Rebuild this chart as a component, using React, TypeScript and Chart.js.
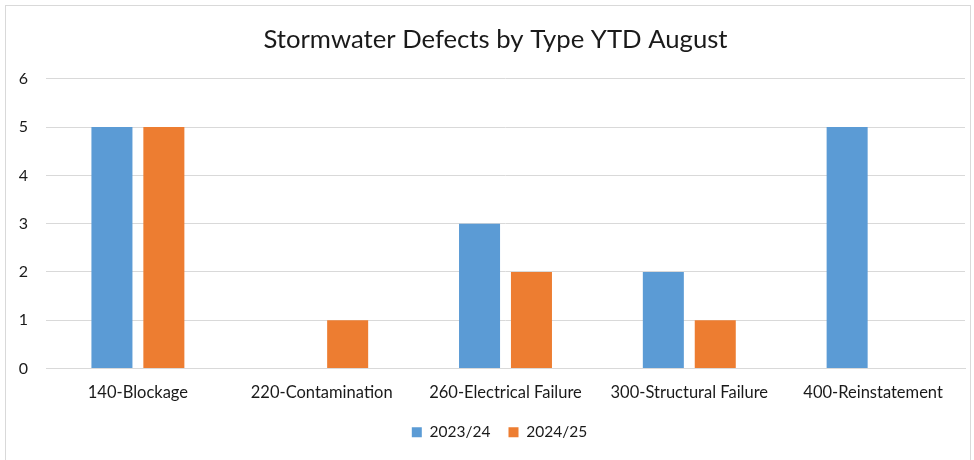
import React, { useEffect, useRef } from "react";
import { Chart, registerables } from "chart.js";

Chart.register(...registerables);

const categories = [
  "140-Blockage",
  "220-Contamination",
  "260-Electrical Failure",
  "300-Structural Failure",
  "400-Reinstatement",
];
const series2023 = [5, 0, 3, 2, 5];
const series2024 = [5, 1, 2, 1, 0];
const seriesLabels = ["2023/24", "2024/25"];
const yTicks = [0, 1, 2, 3, 4, 5, 6];
const titleText = "Stormwater Defects by Type YTD August";

const FONT = "Lato, 'Liberation Sans', sans-serif";
const TEXT = "#1a1a1a";

const blockShift = {
  id: "blockShift",
  afterLayout(chart: any) {
    const lg = chart.legend;
    if (lg) {
      lg.left += 17;
      lg.right += 17;
    }
    const tb = chart.titleBlock;
    if (tb) {
      tb.left += 13;
      tb.right += 13;
    }
  },
};

export default function App() {
  const ref = useRef<HTMLCanvasElement | null>(null);

  useEffect(() => {
    document.body.style.margin = "0";
    const canvas = ref.current;
    if (!canvas) return;
    const chart = new Chart(canvas, {
      type: "bar",
      data: {
        labels: categories,
        datasets: [
          {
            label: seriesLabels[0],
            data: series2023,
            backgroundColor: "#5B9BD5",
            categoryPercentage: 0.565,
            barPercentage: 0.79,
          },
          {
            label: seriesLabels[1],
            data: series2024,
            backgroundColor: "#ED7D31",
            categoryPercentage: 0.565,
            barPercentage: 0.79,
          },
        ],
      },
      plugins: [blockShift],
      options: {
        animation: false,
        responsive: false,
        maintainAspectRatio: false,
        layout: { padding: { left: 0, right: 9, top: 0, bottom: 10 } },
        plugins: {
          title: {
            display: true,
            text: titleText,
            color: TEXT,
            font: { family: FONT, size: 25.7, weight: "normal" },
            padding: { top: 24, bottom: 24 },
          },
          legend: {
            position: "bottom",
            labels: {
              color: TEXT,
              font: { family: FONT, size: 15.5 },
              boxWidth: 10,
              boxHeight: 10,
              padding: 18,
            },
          },
          tooltip: { enabled: false },
        },
        scales: {
          x: {
            grid: { display: false, drawTicks: false },
            border: { display: true, color: "#D9D9D9" },
            ticks: {
              color: TEXT,
              font: { family: FONT, size: 16.5 },
              padding: 14,
              maxRotation: 0,
            },
            afterFit: (s: any) => {
              s.height = 38;
            },
          },
          y: {
            min: 0,
            max: 6,
            afterBuildTicks: (s: any) => {
              s.ticks = yTicks.map((v) => ({ value: v }));
            },
            grid: { color: "#D9D9D9", drawTicks: false },
            border: { display: false },
            ticks: {
              color: TEXT,
              font: { family: FONT, size: 16 },
              padding: 18,
            },
            afterFit: (s: any) => {
              s.width = 46;
            },
          },
        },
      },
    });
    return () => chart.destroy();
  }, []);

  return (
    <div style={{ position: "relative", width: 974, height: 460, background: "#fff", overflow: "hidden" }}>
      <div
        style={{
          position: "absolute",
          left: 5,
          top: 5,
          width: 966,
          height: 470,
          border: "1px solid #D9D9D9",
          boxSizing: "border-box",
        }}
      />
      <canvas ref={ref} width={974} height={460} style={{ position: "absolute", left: 0, top: 0 }} />
    </div>
  );
}
